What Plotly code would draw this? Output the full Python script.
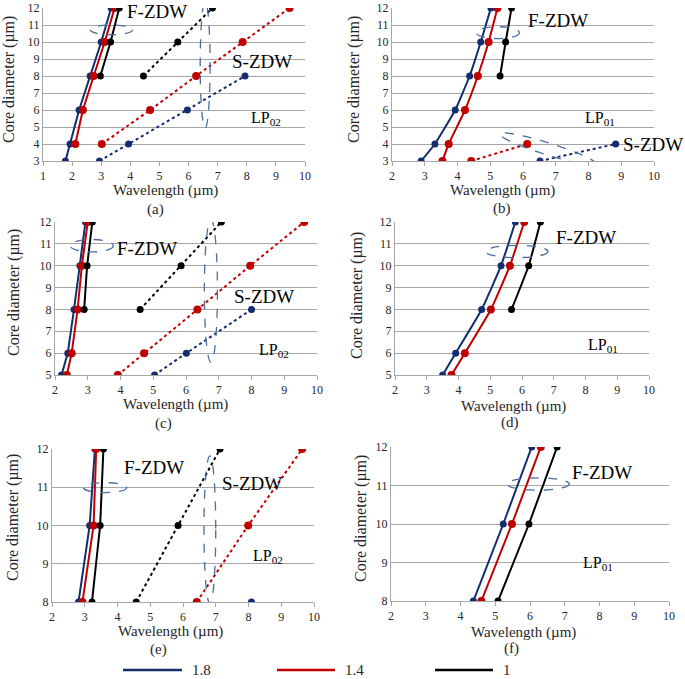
import math
import plotly.graph_objects as go

W, H = 685, 679

# ---------------- data (core diameter µm, wavelength µm) ----------------
# Panel (a) LP02
A_D_F18 = [3, 4, 6, 8, 10, 12]
A_W_F18 = [1.77, 1.93, 2.24, 2.62, 3.00, 3.34]
A_D_F14 = [4, 6, 8, 10, 12]
A_W_F14 = [2.11, 2.37, 2.74, 3.12, 3.46]
A_D_F10 = [8, 10, 12]
A_W_F10 = [2.97, 3.32, 3.62]
A_D_S18 = [3, 4, 6, 8]
A_W_S18 = [2.94, 3.94, 5.96, 7.94]
A_D_S14 = [4, 6, 8, 10, 12]
A_W_S14 = [3.02, 4.68, 6.26, 7.86, 9.47]
A_D_S10 = [8, 10, 12]
A_W_S10 = [4.45, 5.63, 6.82]

# Panel (b) LP01
B_D_F18 = [3, 4, 6, 8, 10, 12]
B_W_F18 = [2.89, 3.31, 3.93, 4.37, 4.71, 5.02]
B_D_F14 = [3, 4, 6, 8, 10, 12]
B_W_F14 = [3.54, 3.73, 4.23, 4.62, 4.95, 5.22]
B_D_F10 = [8, 10, 12]
B_W_F10 = [5.30, 5.47, 5.65]
B_D_S18 = [3, 4]
B_W_S18 = [6.52, 8.83]
B_D_S14 = [3, 4]
B_W_S14 = [4.42, 6.13]

# Panel (c) LP02
C_D_F18 = [5, 6, 8, 10, 12]
C_W_F18 = [2.20, 2.39, 2.58, 2.76, 2.93]
C_D_F14 = [5, 6, 8, 10, 12]
C_W_F14 = [2.36, 2.51, 2.69, 2.82, 3.00]
C_D_F10 = [8, 10, 12]
C_W_F10 = [2.89, 2.98, 3.14]
C_D_S18 = [5, 6, 8]
C_W_S18 = [5.04, 6.01, 8.00]
C_D_S14 = [5, 6, 8, 10, 12]
C_W_S14 = [3.92, 4.72, 6.35, 7.96, 9.61]
C_D_S10 = [8, 10, 12]
C_W_S10 = [4.60, 5.85, 7.08]

# Panel (d) LP01
D_D_F18 = [5, 6, 8, 10, 12]
D_W_F18 = [3.50, 3.91, 4.73, 5.34, 5.79]
D_D_F14 = [5, 6, 8, 10, 12]
D_W_F14 = [3.78, 4.20, 5.02, 5.62, 6.07]
D_D_F10 = [8, 10, 12]
D_W_F10 = [5.67, 6.21, 6.58]

# Panel (e) LP02
E_D_F18 = [8, 10, 12]
E_W_F18 = [2.81, 3.15, 3.31]
E_D_F14 = [8, 10, 12]
E_W_F14 = [2.93, 3.27, 3.35]
E_D_F10 = [8, 10, 12]
E_W_F10 = [3.22, 3.47, 3.57]
E_D_S18 = [8]
E_W_S18 = [8.09]
E_D_S14 = [8, 10, 12]
E_W_S14 = [6.42, 7.99, 9.64]
E_D_S10 = [8, 10, 12]
E_W_S10 = [4.57, 5.85, 7.13]

# Panel (f) LP01
F_D_F18 = [8, 10, 12]
F_W_F18 = [4.37, 5.23, 6.05]
F_D_F14 = [8, 10, 12]
F_W_F14 = [4.60, 5.48, 6.31]
F_D_F10 = [8, 10, 12]
F_W_F10 = [5.08, 5.97, 6.78]

SERIES_NAMES = ["1.8", "1.4", "1"]
PANEL_LABELS = ["(a)", "(b)", "(c)", "(d)", "(e)", "(f)"]
MODE_LABELS = ["LP<sub>02</sub>", "LP<sub>01</sub>", "LP<sub>02</sub>",
               "LP<sub>01</sub>", "LP<sub>02</sub>", "LP<sub>01</sub>"]
X_MIN = [1, 2, 2, 2, 2, 2]
Y_MIN = [3, 3, 5, 5, 8, 8]

# ---------------- styling ----------------
BLUE, RED, BLACK = "#132D6E", "#C00000", "#000000"
COLORS = [BLUE, RED, BLACK]
MSIZE = [7, 8, 7]
GRID = "#A6A6A6"
ELL = "#4A6E9E"
FONT = "Liberation Serif, Times New Roman, DejaVu Serif, serif"
TXT = "#262626"

# pixel boxes of plotting areas: (left, right, top, bottom)
BOXES = [(43, 305, 8, 161), (392, 654, 8, 161),
         (55, 317, 222, 375), (395, 649, 222, 375),
         (52, 314, 449, 602), (391, 669, 447, 601)]

fig = go.Figure()

panel_data = [
    ([(A_D_F18, A_W_F18), (A_D_F14, A_W_F14), (A_D_F10, A_W_F10)],
     [(A_D_S18, A_W_S18), (A_D_S14, A_W_S14), (A_D_S10, A_W_S10)]),
    ([(B_D_F18, B_W_F18), (B_D_F14, B_W_F14), (B_D_F10, B_W_F10)],
     [(B_D_S18, B_W_S18), (B_D_S14, B_W_S14), None]),
    ([(C_D_F18, C_W_F18), (C_D_F14, C_W_F14), (C_D_F10, C_W_F10)],
     [(C_D_S18, C_W_S18), (C_D_S14, C_W_S14), (C_D_S10, C_W_S10)]),
    ([(D_D_F18, D_W_F18), (D_D_F14, D_W_F14), (D_D_F10, D_W_F10)],
     [None, None, None]),
    ([(E_D_F18, E_W_F18), (E_D_F14, E_W_F14), (E_D_F10, E_W_F10)],
     [(E_D_S18, E_W_S18), (E_D_S14, E_W_S14), (E_D_S10, E_W_S10)]),
    ([(F_D_F18, F_W_F18), (F_D_F14, F_W_F14), (F_D_F10, F_W_F10)],
     [None, None, None]),
]

annotations = []
shapes = []


def px2paper_x(px):
    return px / W


def px2paper_y(py):
    return 1 - py / H


for i, (fz, sz) in enumerate(panel_data):
    n = "" if i == 0 else str(i + 1)
    xa, ya = "x" + n, "y" + n
    smooth = i in (1, 3)
    for k, s in enumerate(fz):
        d, w = s
        fig.add_trace(go.Scatter(
            x=w, y=d, xaxis=xa, yaxis=ya, mode="lines+markers",
            line=dict(color=COLORS[k], width=2,
                      shape="spline" if smooth else "linear", smoothing=0.4),
            marker=dict(color=COLORS[k], size=MSIZE[k]),
            showlegend=False, name=SERIES_NAMES[k]))
    for k, s in enumerate(sz):
        if s is None:
            continue
        d, w = s
        fig.add_trace(go.Scatter(
            x=w, y=d, xaxis=xa, yaxis=ya, mode="lines+markers",
            line=dict(color=COLORS[k], width=2, dash="dot"),
            marker=dict(color=COLORS[k], size=MSIZE[k]),
            showlegend=False, name=SERIES_NAMES[k]))

    L, R, T, B = BOXES[i]
    axx = dict(domain=[px2paper_x(L), px2paper_x(R)], range=[X_MIN[i], 10],
               dtick=1, tick0=0, showgrid=False, zeroline=False, showline=True,
               linecolor=GRID, linewidth=1, ticks="outside", ticklen=4,
               tickcolor=GRID, tickfont=dict(family=FONT, size=12, color=TXT),
               anchor=ya, fixedrange=True, automargin=False)
    axy = dict(domain=[px2paper_y(B), px2paper_y(T)], range=[Y_MIN[i], 12],
               dtick=1, tick0=0, showgrid=True, gridcolor=GRID, gridwidth=1,
               zeroline=False, showline=True, linecolor=GRID, linewidth=1,
               ticks="", tickfont=dict(family=FONT, size=12, color=TXT),
               anchor=xa, fixedrange=True, automargin=False)
    fig.layout["xaxis" + n] = axx
    fig.layout["yaxis" + n] = axy

# ---------- axis titles, panel labels ----------
X_TITLE_POS = [(165, 190), (502, 190), (175, 404), (513, 406), (170, 631), (523, 632)]
Y_TITLE_POS = [(9, 80), (354, 80), (14, 293), (357, 296), (13, 518), (361, 518)]
LABEL_POS = [(155, 209), (502, 208), (163, 423), (510, 422), (158, 649), (511, 648)]
for i in range(6):
    annotations.append(dict(x=px2paper_x(X_TITLE_POS[i][0]), y=px2paper_y(X_TITLE_POS[i][1]),
                            xref="paper", yref="paper", text="Wavelength (µm)", showarrow=False,
                            xanchor="center", yanchor="middle",
                            font=dict(family=FONT, size=15, color=TXT)))
    annotations.append(dict(x=px2paper_x(Y_TITLE_POS[i][0]), y=px2paper_y(Y_TITLE_POS[i][1]),
                            xref="paper", yref="paper", text="Core diameter (µm)", showarrow=False,
                            xanchor="center", yanchor="middle",
                            textangle=-90, font=dict(family=FONT, size=16, color=TXT)))
    annotations.append(dict(x=px2paper_x(LABEL_POS[i][0]), y=px2paper_y(LABEL_POS[i][1]),
                            xref="paper", yref="paper", text=PANEL_LABELS[i], showarrow=False,
                            xanchor="center", yanchor="middle",
                            font=dict(family=FONT, size=15, color=TXT)))


# ---------- in-plot labels (data coords) ----------
def lab(i, x, y, text, size, xanchor="center"):
    n = "" if i == 0 else str(i + 1)
    annotations.append(dict(x=x, y=y, xref="x" + n, yref="y" + n, text=text,
                            showarrow=False, xanchor=xanchor, yanchor="middle",
                            font=dict(family=FONT, size=size, color="#000000")))


lab(0, 4.93, 11.78, "F-ZDW", 19); lab(0, 8.51, 8.85, "S-ZDW", 19); lab(0, 8.65, 5.52, MODE_LABELS[0], 16)
lab(1, 7.08, 11.26, "F-ZDW", 19); lab(1, 9.0, 3.96, "S-ZDW", 19, "left"); lab(1, 8.35, 5.52, MODE_LABELS[1], 16)
lab(2, 4.80, 10.78, "F-ZDW", 19); lab(2, 8.39, 8.58, "S-ZDW", 19); lab(2, 8.68, 6.14, MODE_LABELS[2], 16)
lab(3, 8.0, 11.27, "F-ZDW", 19); lab(3, 8.55, 6.37, MODE_LABELS[3], 16)
lab(4, 5.12, 11.52, "F-ZDW", 19); lab(4, 8.11, 11.1, "S-ZDW", 19); lab(4, 8.6, 9.19, MODE_LABELS[4], 16)
lab(5, 8.08, 11.34, "F-ZDW", 19); lab(5, 7.96, 8.98, MODE_LABELS[5], 16)


# ---------- dashed ellipses ----------
def ell(i, x0, x1, y0, y1):
    n = "" if i == 0 else str(i + 1)
    shapes.append(dict(type="circle", xref="x" + n, yref="y" + n, x0=x0, x1=x1, y0=y0, y1=y1,
                       line=dict(color=ELL, width=1.3, dash="dash")))


ell(0, 2.62, 4.08, 10.43, 11.0); ell(0, 6.4, 6.74, 4.94, 12.37)
ell(1, 4.57, 5.89, 10.2, 10.9)
ell(2, 2.46, 3.78, 10.63, 11.2); ell(2, 6.56, 6.96, 5.58, 12.12)
ell(3, 4.85, 6.82, 10.37, 10.93)
ell(4, 2.96, 4.28, 10.86, 11.12); ell(4, 6.64, 7.0, 7.96, 11.82)
ell(5, 5.33, 7.13, 10.88, 11.2)

# tilted ellipse in (b)
cx, cy = 6.76, 3.71
ax_, ay_ = 1.466, -0.882
bx_, by_ = -0.055, -0.337
pts = []
for j in range(73):
    t = 2 * math.pi * j / 72
    pts.append((cx + ax_ * math.cos(t) + bx_ * math.sin(t),
                cy + ay_ * math.cos(t) + by_ * math.sin(t)))
path = "M " + " L ".join(f"{p[0]:.4f},{p[1]:.4f}" for p in pts) + " Z"
shapes.append(dict(type="path", xref="x2", yref="y2", path=path,
                   line=dict(color=ELL, width=1.3, dash="dash")))

# ---------- legend (manual) ----------
LEG_Y = 670
LEG_LINES = [(123, 182), (277, 335), (435, 493)]
for k in range(3):
    x0, x1 = LEG_LINES[k]
    shapes.append(dict(type="line", xref="paper", yref="paper",
                       x0=px2paper_x(x0), x1=px2paper_x(x1),
                       y0=px2paper_y(LEG_Y), y1=px2paper_y(LEG_Y),
                       line=dict(color=COLORS[k], width=2.5)))
    annotations.append(dict(x=px2paper_x(x1 + 8), y=px2paper_y(LEG_Y), xref="paper", yref="paper",
                            text=SERIES_NAMES[k], showarrow=False, xanchor="left", yanchor="middle",
                            font=dict(family=FONT, size=15, color=TXT)))

fig.update_layout(width=W, height=H, autosize=False,
                  margin=dict(l=0, r=0, t=0, b=0, autoexpand=False),
                  paper_bgcolor="white", plot_bgcolor="white",
                  annotations=annotations, shapes=shapes, showlegend=False)

fig.write_html("out.html", config={"displayModeBar": False},
               post_script="document.body.style.margin='0px';document.body.style.overflow='hidden';")
